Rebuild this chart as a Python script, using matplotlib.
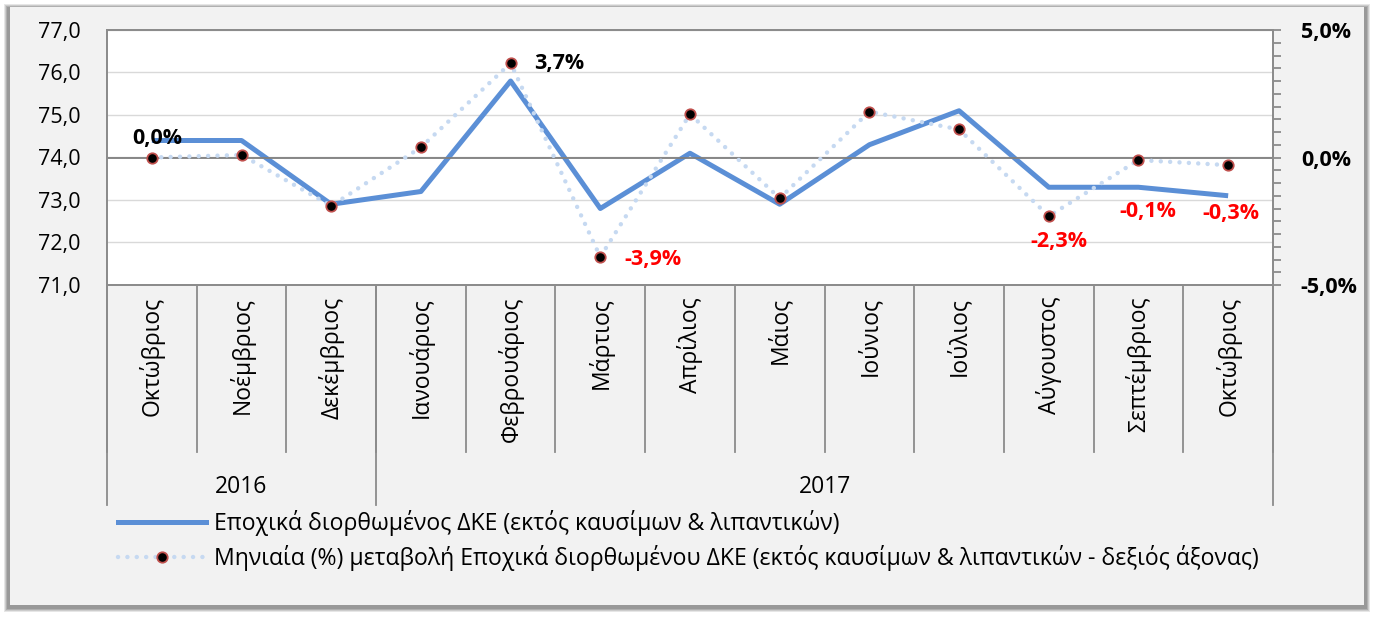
import matplotlib
matplotlib.use("Agg")
import matplotlib.pyplot as plt
from matplotlib.lines import Line2D
from matplotlib.patches import Rectangle
from matplotlib.ticker import FixedLocator, MultipleLocator, FuncFormatter

plt.rcParams['font.family'] = ['Open Sans', 'DejaVu Sans']

months = ["Οκτώβριος", "Νοέμβριος", "Δεκέμβριος", "Ιανουάριος", "Φεβρουάριος",
          "Μάρτιος", "Απρίλιος", "Μάιος", "Ιούνιος", "Ιούλιος", "Αύγουστος",
          "Σεπτέμβριος", "Οκτώβριος"]
years = ["2016", "2017"]
year_counts = [3, 10]
dke_sa = [74.4, 74.4, 72.9, 73.2, 75.8, 72.8, 74.1, 72.9, 74.3, 75.1, 73.3, 73.3, 73.1]
monthly_change = [0.0, 0.1, -1.9, 0.4, 3.7, -3.9, 1.7, -1.6, 1.8, 1.1, -2.3, -0.1, -0.3]
labelled_idx = [0, 4, 5, 10, 11, 12]
series_names = ["Εποχικά διορθωμένος ΔΚΕ (εκτός καυσίμων & λιπαντικών)",
                "Μηνιαία (%) μεταβολή Εποχικά διορθωμένου ΔΚΕ (εκτός καυσίμων & λιπαντικών - δεξιός άξονας)"]

W, H = 1373, 617
DPI = 100
fig = plt.figure(figsize=(W / DPI, H / DPI), dpi=DPI, facecolor="white")

def fx(x):
    return x / W

def fy(y):
    return 1 - y / H

# background panel with shadow
for i, c in enumerate(["#e6e6e6", "#cccccc", "#b0b0b0", "#999999"]):
    off = 4 - i
    fig.add_artist(Rectangle((fx(8 - off), fy(608 + off)), fx(1358 + 2 * off), (600 + 2 * off) / H,
                             transform=fig.transFigure, facecolor=c, edgecolor="none", zorder=-3))
fig.add_artist(Rectangle((fx(10), fy(605)), fx(1354), 598 / H, transform=fig.transFigure,
                         facecolor="#f2f2f2", edgecolor="none", zorder=-2))

FS = 15.5
FS_CAT = 16.5
FS_LEG = 16.6

ax = fig.add_axes([fx(107), fy(285), fx(1166), 255 / H])
ax.set_facecolor("white")
n = len(months)
x = list(range(n))
ax.set_xlim(-0.5, n - 0.5)
ax.set_ylim(71, 77)
ax.yaxis.set_major_locator(MultipleLocator(1))
ax.yaxis.set_major_formatter(FuncFormatter(lambda v, p: f"{v:.1f}".replace(".", ",")))
ax.tick_params(axis="y", length=0, pad=19, labelsize=FS, labelcolor="black")
ax.set_xticks([])
ax.grid(axis="y", color="#d9d9d9", lw=1.0)
ax.set_axisbelow(True)
for s in ax.spines.values():
    s.set_color("#8c8c8c")
    s.set_linewidth(1.3)

ax.plot(x, dke_sa, color="#5b8fd6", lw=3.6, solid_capstyle="butt", zorder=3)

ax2 = ax.twinx()
ax2.set_ylim(-5, 5)
ax2.yaxis.set_major_locator(FixedLocator([-5, 0, 5]))
ax2.yaxis.set_minor_locator(MultipleLocator(0.5))
ax2.yaxis.set_major_formatter(FuncFormatter(lambda v, p: f"{v:.1f}%".replace(".", ",")))
ax2.tick_params(axis="y", which="both", direction="out", length=6, width=1.3, color="#8c8c8c",
                pad=14, labelsize=FS)
for lab in ax2.get_yticklabels():
    lab.set_fontweight("bold")
for s in ax2.spines.values():
    s.set_color("#8c8c8c")
    s.set_linewidth(1.3)
ax2.axhline(0, color="#7f7f7f", lw=1.3, zorder=1)

ax2.plot(x, monthly_change, color="#c6d9f1", lw=3.2, linestyle=(0, (0.01, 2.1)),
         dash_capstyle="round", marker="o", markersize=7.5, markerfacecolor="black",
         markeredgecolor="#c0504d", markeredgewidth=1.3, zorder=4)

offsets = {0: (4, 14), 4: (35, 0), 5: (38, -2), 10: (7, -18), 11: (7, -37), 12: (2, -35)}
for i in labelled_idx:
    v = monthly_change[i]
    col = "black" if v >= 0 else "#ff0000"
    ax2.annotate(f"{v:.1f}%".replace(".", ","), (x[i], v), xytext=offsets[i],
                 textcoords="offset points", ha="center", va="center", fontsize=FS,
                 fontweight="bold", color=col, zorder=5)

# category axis lines
sep_col = "#8c8c8c"
for b in range(n + 1):
    xb = b / n
    ax.add_line(Line2D([xb, xb], [0, -(452 - 285) / 255], transform=ax.transAxes,
                       color=sep_col, lw=1.3, clip_on=False))
pos = 0
bounds = [0]
for c in year_counts:
    pos += c
    bounds.append(pos)
for b in bounds:
    xb = b / n
    ax.add_line(Line2D([xb, xb], [0, -(505 - 285) / 255], transform=ax.transAxes,
                       color=sep_col, lw=1.3, clip_on=False))

for i, m in enumerate(months):
    ax.text((i + 0.5) / n, -(297 - 285) / 255, m, transform=ax.transAxes, rotation=90,
            ha="center", va="top", fontsize=FS_CAT, clip_on=False)
for k, yname in enumerate(years):
    xc = (bounds[k] + bounds[k + 1]) / 2 / n
    ax.text(xc, -(487 - 285) / 255, yname, transform=ax.transAxes, ha="center", va="center",
            fontsize=FS_CAT, clip_on=False)

h1 = Line2D([], [], color="#5b8fd6", lw=3.6)
h2 = Line2D([], [], color="#c6d9f1", lw=3.2, linestyle=(0, (0.01, 2.1)), dash_capstyle="round",
            marker="o", markersize=7.5, markerfacecolor="black", markeredgecolor="#c0504d",
            markeredgewidth=1.3)
fig.legend([h1, h2], series_names, loc="upper left", bbox_to_anchor=(fx(118), fy(510)),
           frameon=False, fontsize=FS_LEG, handlelength=3.8, handletextpad=0.35, labelspacing=0.4,
           numpoints=1, borderaxespad=0, borderpad=0)

fig.savefig("out.png", dpi=DPI, facecolor=fig.get_facecolor())
